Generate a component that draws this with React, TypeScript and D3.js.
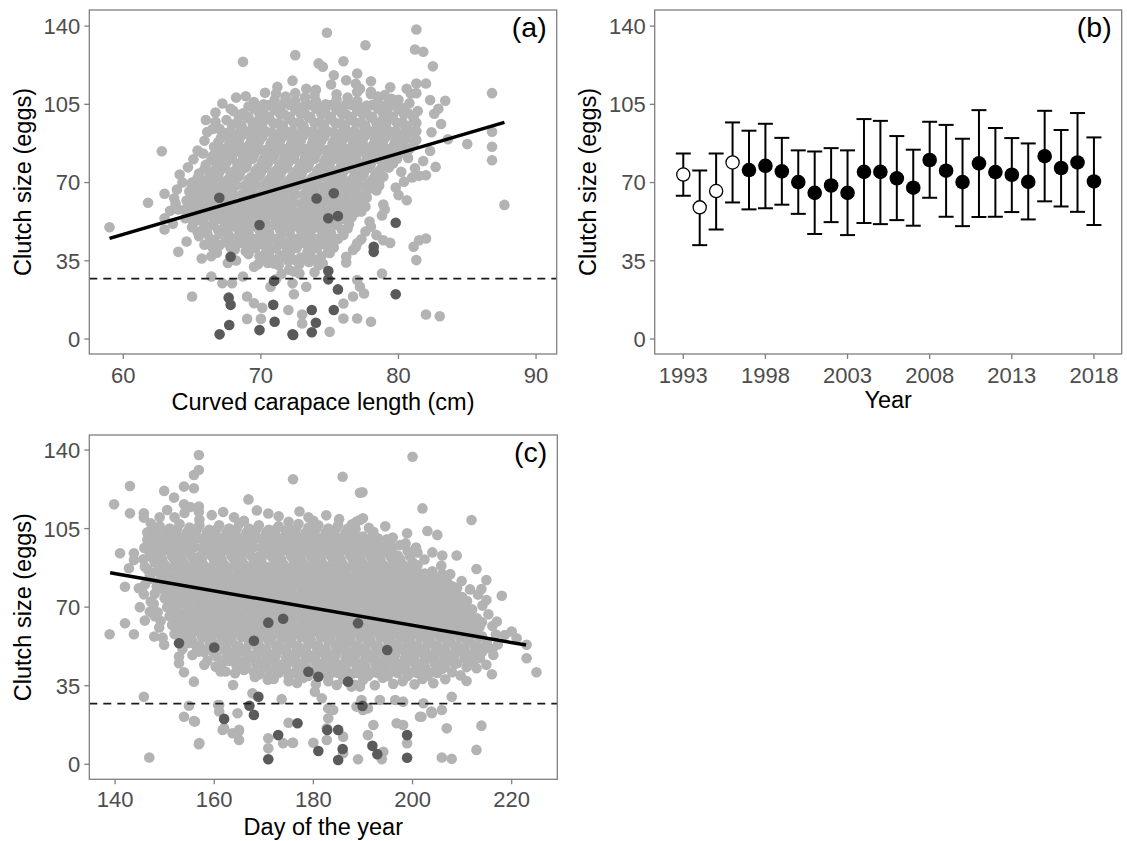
import React from "react";
import * as d3 from "d3";

type Pt = [number, number];

const FONT = "'Liberation Sans', Arial, Helvetica, sans-serif";
const LIGHT = "#b3b3b3";
const DARK = "#5a5a5a";
const AXIS = "#7f7f7f";
const TICKTEXT = "#4d4d4d";

const clutchTicks = [0, 35, 70, 105, 140];
const cclTicks = [60, 70, 80, 90];
const yearTicks = [1993, 1998, 2003, 2008, 2013, 2018];
const dayTicks = [140, 160, 180, 200, 220];
const threshold = 27;

// Panel (a): curved carapace length (cm) vs clutch size (eggs)
const lightA: Pt[] = [
  [72.5,110],[74,111.5],[75.5,109.5],[77,110.5],[78.5,108.5],[73.2,108],
  [69.5,106],[70.2,105],[71,107],[71.7,105.5],[72.5,106.5],[73.2,104.5],[74,106.5],[74.7,105],[75.5,107],[76.2,105],[77,106.5],[77.7,104.5],[78.5,106],[79.2,105],[80,107],[80.8,105.5],
  [68,102],[68.7,101],[69.5,103],[70.2,101.5],[71,102.5],[71.7,100.5],[72.5,102.5],[73.2,101],[74,103],[74.7,101],[75.5,102.5],[76.2,100.5],[77,102],[77.7,101],[78.5,103],[79.2,101.5],[80,102.5],[80.7,101],[81.4,102],
  [67.5,98],[68.3,97],[69,99],[69.8,97.5],[70.5,98.5],[71.3,96.5],[72,98.5],[72.8,97],[73.5,99],[74.3,97],[75,98.5],[75.8,96.5],[76.5,98],[77.3,97],[78,99],[78.8,97.5],[79.5,98.5],[80.3,97],[81.1,98.5],
  [67,94],[67.8,93],[68.5,95],[69.3,93.5],[70,94.5],[70.8,92.5],[71.5,94.5],[72.3,93],[73,95],[73.8,93],[74.5,94.5],[75.3,92.5],[76,94],[76.8,93],[77.5,95],[78.3,93.5],[79,94.5],[79.8,93],[80.5,94.5],[81.3,93],
  [67.1,90],[67.8,89],[68.6,91],[69.3,89.5],[70.1,90.5],[70.8,88.5],[71.6,90.5],[72.3,89],[73.1,91],[73.8,89],[74.6,90.5],[75.3,88.5],[76.1,90],[76.8,89],[77.6,91],[78.3,89.5],[79.1,90.5],[79.8,89],[80.6,90.5],[81.3,89],
  [66.6,86],[67.3,85],[68.1,87],[68.8,85.5],[69.6,86.5],[70.3,84.5],[71.1,86.5],[71.8,85],[72.6,87],[73.3,85],[74.1,86.5],[74.8,84.5],[75.6,86],[76.3,85],[77.1,87],[77.8,85.5],[78.6,86.5],[79.3,85],[80.1,86.5],[80.8,85],
  [66.5,82],[67.2,81],[68,83],[68.7,81.5],[69.5,82.5],[70.2,80.5],[71,82.5],[71.7,81],[72.5,83],[73.2,81],[74,82.5],[74.7,80.5],[75.5,82],[76.2,81],[77,83],[77.7,81.5],[78.5,82.5],[79.2,81],[80,82.5],[80.7,81],
  [66,78],[66.8,77],[67.5,79],[68.3,77.5],[69,78.5],[69.8,76.5],[70.5,78.5],[71.3,77],[72,79],[72.8,77],[73.5,78.5],[74.3,76.5],[75,78],[75.8,77],[76.5,79],[77.3,77.5],[78,78.5],[78.8,77],[79.6,78.5],
  [65.5,74],[66.3,73],[67,75],[67.8,73.5],[68.5,74.5],[69.3,72.5],[70,74.5],[70.8,73],[71.5,75],[72.3,73],[73,74.5],[73.8,72.5],[74.5,74],[75.3,73],[76,75],[76.8,73.5],[77.5,74.5],[78.3,73],
  [65,70],[65.8,69],[66.5,71],[67.3,69.5],[68,70.5],[68.8,68.5],[69.5,70.5],[70.3,69],[71,71],[71.8,69],[72.5,70.5],[73.3,68.5],[74,70],[74.8,69],[75.5,71],[76.3,69.5],[77,70.5],[77.8,69],[78.6,70.5],
  [64.8,66],[65.6,65],[66.3,67],[67.1,65.5],[67.8,66.5],[68.6,64.5],[69.3,66.5],[70.1,65],[70.8,67],[71.6,65],[72.3,66.5],[73.1,64.5],[73.8,66],[74.6,65],[75.3,67],[76.1,65.5],[76.8,66.5],[77.6,65],[78.4,66.5],
  [64.6,62],[65.4,61],[66.1,63],[66.9,61.5],[67.6,62.5],[68.4,60.5],[69.1,62.5],[69.9,61],[70.6,63],[71.4,61],[72.1,62.5],[72.9,60.5],[73.6,62],[74.4,61],[75.1,63],[75.9,61.5],[76.6,62.5],[77.4,61],
  [64.5,58],[65.3,57],[66,59],[66.8,57.5],[67.5,58.5],[68.3,56.5],[69,58.5],[69.8,57],[70.5,59],[71.3,57],[72,58.5],[72.8,56.5],[73.5,58],[74.3,57],[75,59],[75.8,57.5],[76.5,58.5],[77.3,57],
  [64.5,54],[65.3,53],[66,55],[66.8,53.5],[67.5,54.5],[68.3,52.5],[69,54.5],[69.8,53],[70.5,55],[71.3,53],[72,54.5],[72.8,52.5],[73.5,54],[74.3,53],[75,55],[75.8,53.5],[76.6,54.5],
  [65,50],[65.8,49],[66.5,51],[67.3,49.5],[68,50.5],[68.8,48.5],[69.5,50.5],[70.3,49],[71,51],[71.8,49],[72.5,50.5],[73.3,48.5],[74,50],[74.8,49],[75.5,51],[76.3,49.5],
  [65.5,46],[66.3,45],[67,47],[67.8,45.5],[68.5,46.5],[69.3,44.5],[70,46.5],[70.8,45],[71.5,47],[72.3,45],[73,46.5],[73.8,44.5],[74.5,46],[75.3,45],[76,46.5],
  [67,42],[67.8,41],[68.5,43],[69.3,41.5],[70,42.5],[70.8,40.5],[71.5,42.5],[72.3,41],[73,43],[73.8,41],[74.5,42.5],[75.3,41],
  [69.1,38],[69.9,37],[70.6,39],[71.4,37.5],[72.1,38.5],[72.9,36.5],[73.6,38.5],[74.4,37],[75,38.5],
  [70.5,34],[71.3,33],[72,35],[72.8,33.5],[73.5,34.5],[74.2,33],
  [59,50],[61.8,61],[62.8,84],[63,65],[63,54],[63,49],[63.7,63],[64,58],[64.3,70],[65,68],[64,39],[65,19],[65.8,83],[66,98],[66.5,94],[65.7,36],[66.5,41],[66.4,37],[67,81.5],[67.8,103],[68.2,108],[68.7,124],
  [67.6,34],[66.4,28],[67.2,25],[67.9,25],[68.7,28],[69,19],[69,9],[69.5,16],[70.1,14],[70,9],[72,13],[72.4,20],[73,11],[73,7],
  [72.5,127],[74.8,137],[77.6,131.4],[81.3,138.5],[81.2,129.5],[81.8,128.5],[82.5,122],[76,124.3],[78,115.3],[80.6,112],[81.3,114.3],[82,114.3],[81.3,110],[83.4,106.6],[82.9,103],
  [86.8,110],[86.8,92.7],[86.8,86],[86.8,80],[85,87.2],[87.7,60],[82.7,77],[82,73.3],[81.5,73],[81,72.3],[80.2,74.8],[80,64.4],[79,58],[78,50.2],[78.4,46.5],[78.9,44.2],[79.4,43],
  [81.1,41.3],[81.5,44.2],[82,45],[81.3,35.3],[77,42.8],[76.7,39.8],[76.2,36.8],[78.8,29.3],[77.2,23.4],[77,26.4],[77.5,20.4],[76.7,19],[76,9.2],[77,9.2],[78,7.7],[82,11],[83,10.2],[76,15.9],[75,3.2],
  [70.95,33.8],[70.7,23.4],[71.1,26.7],[69.5,32.3],[70,36.8],[70.6,37.5],[72.05,31],[72.8,29.3],[72.3,24.9],[73.3,23.4],[74.5,33.8],
  [71.1,109.8],[71.8,107.6],[73.3,112],[74.2,123.3],[69.6,103.1],[74.5,121.8],[75.3,118],[76.2,115.8],[77,118.8],[77.2,112],[78,110.6],[79,109.1],[79.9,103.9],
];

// Panel (a): the densely packed middle of the cloud
const coreA: Pt[] = [
  [71.8,108.5],[73.9,109],[76.3,108],[78,109.5],[79.5,107.5],
  [69.1,104],[69.9,103.3],[70.6,104.7],[71.4,103.3],[72.1,104.7],[72.9,103.3],[73.6,104.7],[74.4,103.3],[75.1,104.7],[75.9,103.3],[76.6,104.7],[77.4,103.3],[78.1,104.7],[78.9,103.3],[79.6,104.7],[80.4,103.3],
  [68.4,100],[69.1,99.3],[69.9,100.7],[70.6,99.3],[71.4,100.7],[72.1,99.3],[72.9,100.7],[73.6,99.3],[74.4,100.7],[75.1,99.3],[75.9,100.7],[76.6,99.3],[77.4,100.7],[78.1,99.3],[78.9,100.7],[79.6,99.3],[80.4,100.7],[81.1,99.3],
  [67.9,96],[68.6,95.3],[69.4,96.7],[70.1,95.3],[70.9,96.7],[71.6,95.3],[72.4,96.7],[73.1,95.3],[73.9,96.7],[74.6,95.3],[75.4,96.7],[76.1,95.3],[76.9,96.7],[77.6,95.3],[78.4,96.7],[79.1,95.3],[79.9,96.7],[80.6,95.3],[81.3,96.7],
  [67.4,92],[68.2,91.3],[68.9,92.7],[69.7,91.3],[70.4,92.7],[71.2,91.3],[71.9,92.7],[72.7,91.3],[73.4,92.7],[74.2,91.3],[74.9,92.7],[75.7,91.3],[76.4,92.7],[77.2,91.3],[77.9,92.7],[78.7,91.3],[79.4,92.7],[80.2,91.3],[80.9,92.7],
  [66.9,88],[67.7,87.3],[68.4,88.7],[69.2,87.3],[69.9,88.7],[70.7,87.3],[71.4,88.7],[72.2,87.3],[72.9,88.7],[73.7,87.3],[74.4,88.7],[75.2,87.3],[75.9,88.7],[76.7,87.3],[77.4,88.7],[78.2,87.3],[78.9,88.7],[79.7,87.3],[80.4,88.7],[81.1,87.3],
  [66.9,84],[67.6,83.3],[68.4,84.7],[69.1,83.3],[69.9,84.7],[70.6,83.3],[71.4,84.7],[72.1,83.3],[72.9,84.7],[73.6,83.3],[74.4,84.7],[75.1,83.3],[75.9,84.7],[76.6,83.3],[77.4,84.7],[78.1,83.3],[78.9,84.7],[79.6,83.3],[80.4,84.7],
  [66.4,80],[67.1,79.3],[67.9,80.7],[68.6,79.3],[69.4,80.7],[70.1,79.3],[70.9,80.7],[71.6,79.3],[72.4,80.7],[73.1,79.3],[73.9,80.7],[74.6,79.3],[75.4,80.7],[76.1,79.3],[76.9,80.7],[77.6,79.3],[78.4,80.7],[79.1,79.3],[79.9,80.7],
  [65.9,76],[66.6,75.3],[67.4,76.7],[68.1,75.3],[68.9,76.7],[69.6,75.3],[70.4,76.7],[71.1,75.3],[71.9,76.7],[72.6,75.3],[73.4,76.7],[74.1,75.3],[74.9,76.7],[75.6,75.3],[76.4,76.7],[77.1,75.3],[77.9,76.7],[78.6,75.3],[79.3,76.7],
  [65.4,72],[66.1,71.3],[66.9,72.7],[67.6,71.3],[68.4,72.7],[69.1,71.3],[69.9,72.7],[70.6,71.3],[71.4,72.7],[72.1,71.3],[72.9,72.7],[73.6,71.3],[74.4,72.7],[75.1,71.3],[75.9,72.7],[76.6,71.3],[77.4,72.7],[78.1,71.3],[78.9,72.7],
  [65.2,68],[65.9,67.3],[66.7,68.7],[67.4,67.3],[68.2,68.7],[68.9,67.3],[69.7,68.7],[70.4,67.3],[71.2,68.7],[71.9,67.3],[72.7,68.7],[73.4,67.3],[74.2,68.7],[74.9,67.3],[75.7,68.7],[76.4,67.3],[77.2,68.7],[77.9,67.3],[78.6,68.7],
  [65,64],[65.7,63.3],[66.5,64.7],[67.2,63.3],[68,64.7],[68.7,63.3],[69.5,64.7],[70.2,63.3],[71,64.7],[71.7,63.3],[72.5,64.7],[73.2,63.3],[74,64.7],[74.7,63.3],[75.5,64.7],[76.2,63.3],[77,64.7],[77.7,63.3],
  [64.9,60],[65.6,59.3],[66.4,60.7],[67.1,59.3],[67.9,60.7],[68.6,59.3],[69.4,60.7],[70.1,59.3],[70.9,60.7],[71.6,59.3],[72.4,60.7],[73.1,59.3],[73.9,60.7],[74.6,59.3],[75.4,60.7],[76.1,59.3],[76.9,60.7],[77.6,59.3],
  [64.9,56],[65.6,55.3],[66.4,56.7],[67.1,55.3],[67.9,56.7],[68.6,55.3],[69.4,56.7],[70.1,55.3],[70.9,56.7],[71.6,55.3],[72.4,56.7],[73.1,55.3],[73.9,56.7],[74.6,55.3],[75.4,56.7],[76.1,55.3],[76.9,56.7],
  [65.1,52],[65.9,51.3],[66.6,52.7],[67.4,51.3],[68.1,52.7],[68.9,51.3],[69.6,52.7],[70.4,51.3],[71.1,52.7],[71.9,51.3],[72.6,52.7],[73.4,51.3],[74.1,52.7],[74.9,51.3],[75.6,52.7],[76.4,51.3],
  [65.4,48],[66.1,47.3],[66.9,48.7],[67.6,47.3],[68.4,48.7],[69.1,47.3],[69.9,48.7],[70.6,47.3],[71.4,48.7],[72.1,47.3],[72.9,48.7],[73.6,47.3],[74.4,48.7],[75.1,47.3],[75.9,48.7],
  [66.6,44],[67.4,43.3],[68.1,44.7],[68.9,43.3],[69.6,44.7],[70.4,43.3],[71.1,44.7],[71.9,43.3],[72.6,44.7],[73.4,43.3],[74.1,44.7],[74.9,43.3],[75.6,44.7],
  [68.1,40],[68.9,39.3],[69.6,40.7],[70.4,39.3],[71.1,40.7],[71.9,39.3],[72.6,40.7],[73.4,39.3],[74.1,40.7],[74.9,39.3],
  [70.2,36],[71,35.3],[71.7,36.7],[72.5,35.3],[73.2,36.7],[74,35.3],
];

// Panel (a): scattered points around the edge of the dense cloud
const fringeA: Pt[] = [
  [68.9,108.6],[70.3,110.2],[71.2,112.8],[72.3,115.6],[75.1,113.9],[76.9,114.2],[79.4,112.6],[80.9,109.8],[82.3,106.9],[67.2,105.4],[66.7,101.3],
  [82.6,100.8],[83.1,96.2],[82.4,92.5],[83.6,89.4],[82.3,84.1],[81.8,79.6],[81.2,76.4],[80.4,70.4],[79.8,67.8],[80.6,62.1],[78.9,60.2],[78.8,55.3],[77.9,52.6],[77.6,48.1],[77.3,44.6],[76.9,41.2],[76.2,34.2],
  [73.9,29.9],[72.4,30.2],[71.5,29.1],[69.8,33.5],[68.2,35.1],[66.8,38.6],[65.9,42.2],[64.6,43.6],
  [63.6,51.6],[63.4,57.4],[63.8,60.6],[63.9,66.9],[64.1,73.6],[64.7,76.8],[65.1,80.4],[65.4,84.3],[65.9,88.7],[66.1,92.6],[66.7,97.2],
];

const darkA: Pt[] = [
  [66.98,63.2],[69.9,51],[67.8,36.8],[67.66,18.5],[67.8,15.3],[70.9,15.3],[71,7.7],[67.7,6.3],[67,2.1],[69.9,4],[72.3,2.1],[70.95,26],
  [74.05,62.9],[75.3,65.2],[74.9,54],[75.6,55],[79.8,52],[78.2,41.3],[78.2,39],[74.9,30.4],[74.9,26.7],[75.6,22.2],[79.8,20],[73.7,13],[75.3,13],[74,7.3],[73.7,3],[72.35,1.8],
];

const fitA: Pt[] = [[59, 45], [87.7, 96.9]];

// Panel (b): yearly mean clutch size with error bars
const years = [1993,1994,1995,1996,1997,1998,1999,2000,2001,2002,2003,2004,2005,2006,2007,2008,2009,2010,2011,2012,2013,2014,2015,2016,2017,2018];
const yearMean = [73.6,58.9,66.2,79.0,75.6,77.5,75.0,70.2,65.4,68.7,65.4,74.8,74.8,71.9,67.7,80.1,75.3,70.2,78.6,74.7,73.5,70.3,81.8,76.5,79.0,70.5];
const yearLower = [64.1,42.0,49.0,61.1,58.0,58.5,60.1,56.0,47.0,52.3,46.5,51.9,51.4,53.2,50.7,63.2,54.7,50.5,54.6,54.7,56.8,53.5,61.6,59.3,56.9,51.0];
const yearUpper = [83.0,75.4,83.0,96.9,93.2,96.3,90.0,84.4,83.9,85.4,84.4,98.4,97.6,90.8,84.7,97.2,95.8,89.6,102.4,94.4,89.9,87.5,102.1,93.5,101.1,90.2];
const openYears = [1993, 1994, 1995, 1996];

// Panel (c): day of the year vs clutch size
const lightC: Pt[] = [
  [152,110],[154,112],[157,109],[159.5,111],[164,110],[166,108.5],[173,110.5],[175,108],[179,110],[180,108.5],
  [149,106],[151,105],[153,107],[155,105.5],[157,106.5],[159,104.5],[161,106.5],[163,105],[165,107],[167,105],[169,106.5],[171,104.5],[173,106],[175,105],[177,107],[179,105.5],[181,106.5],[183,105],[185,106.5],[187,105],
  [148,102],[150,101],[152,103],[154,101.5],[156,102.5],[158,100.5],[160,102.5],[162,101],[164,103],[166,101],[168,102.5],[170,100.5],[172,102],[174,101],[176,103],[178,101.5],[180,102.5],[182,101],[184,102.5],[186,101],[188,103],[190,101.5],[192,102],
  [147.5,98],[149.5,97],[151.5,99],[153.5,97.5],[155.5,98.5],[157.5,96.5],[159.5,98.5],[161.5,97],[163.5,99],[165.5,97],[167.5,98.5],[169.5,96.5],[171.5,98],[173.5,97],[175.5,99],[177.5,97.5],[179.5,98.5],[181.5,97],[183.5,98.5],[185.5,97],[187.5,99],[189.5,97.5],[191.5,98.5],[193.5,97],[195.5,98],
  [147,94],[149,93],[151,95],[153,93.5],[155,94.5],[157,92.5],[159,94.5],[161,93],[163,95],[165,93],[167,94.5],[169,92.5],[171,94],[173,93],[175,95],[177,93.5],[179,94.5],[181,93],[183,94.5],[185,93],[187,95],[189,93.5],[191,94.5],[193,93],[195,94.5],[197,93],
  [148,90],[150,89],[152,91],[154,89.5],[156,90.5],[158,88.5],[160,90.5],[162,89],[164,91],[166,89],[168,90.5],[170,88.5],[172,90],[174,89],[176,91],[178,89.5],[180,90.5],[182,89],[184,90.5],[186,89],[188,91],[190,89.5],[192,90.5],[194,89],[196,90.5],[198,89],[200,90],
  [148.5,86],[150.5,85],[152.5,87],[154.5,85.5],[156.5,86.5],[158.5,84.5],[160.5,86.5],[162.5,85],[164.5,87],[166.5,85],[168.5,86.5],[170.5,84.5],[172.5,86],[174.5,85],[176.5,87],[178.5,85.5],[180.5,86.5],[182.5,85],[184.5,86.5],[186.5,85],[188.5,87],[190.5,85.5],[192.5,86.5],[194.5,85],[196.5,86.5],[198.5,85],[200.5,86.5],[202.5,85],[204,86],
  [149,82],[151,81],[153,83],[155,81.5],[157,82.5],[159,80.5],[161,82.5],[163,81],[165,83],[167,81],[169,82.5],[171,80.5],[173,82],[175,81],[177,83],[179,81.5],[181,82.5],[183,81],[185,82.5],[187,81],[189,83],[191,81.5],[193,82.5],[195,81],[197,82.5],[199,81],[201,82.5],[203,81],[205,82.5],[207,81],
  [149.5,78],[151.5,77],[153.5,79],[155.5,77.5],[157.5,78.5],[159.5,76.5],[161.5,78.5],[163.5,77],[165.5,79],[167.5,77],[169.5,78.5],[171.5,76.5],[173.5,78],[175.5,77],[177.5,79],[179.5,77.5],[181.5,78.5],[183.5,77],[185.5,78.5],[187.5,77],[189.5,79],[191.5,77.5],[193.5,78.5],[195.5,77],[197.5,78.5],[199.5,77],[201.5,78.5],[203.5,77],[205.5,78.5],[207.5,77],[209,78.5],
  [150,74],[152,73],[154,75],[156,73.5],[158,74.5],[160,72.5],[162,74.5],[164,73],[166,75],[168,73],[170,74.5],[172,72.5],[174,74],[176,73],[178,75],[180,73.5],[182,74.5],[184,73],[186,74.5],[188,73],[190,75],[192,73.5],[194,74.5],[196,73],[198,74.5],[200,73],[202,74.5],[204,73],[206,74.5],[208,73],[210,74.5],
  [150.5,70],[152.5,69],[154.5,71],[156.5,69.5],[158.5,70.5],[160.5,68.5],[162.5,70.5],[164.5,69],[166.5,71],[168.5,69],[170.5,70.5],[172.5,68.5],[174.5,70],[176.5,69],[178.5,71],[180.5,69.5],[182.5,70.5],[184.5,69],[186.5,70.5],[188.5,69],[190.5,71],[192.5,69.5],[194.5,70.5],[196.5,69],[198.5,70.5],[200.5,69],[202.5,70.5],[204.5,69],[206.5,70.5],[208.5,69],[210.5,70.5],[212,69],
  [151,66],[153,65],[155,67],[157,65.5],[159,66.5],[161,64.5],[163,66.5],[165,65],[167,67],[169,65],[171,66.5],[173,64.5],[175,66],[177,65],[179,67],[181,65.5],[183,66.5],[185,65],[187,66.5],[189,65],[191,67],[193,65.5],[195,66.5],[197,65],[199,66.5],[201,65],[203,66.5],[205,65],[207,66.5],[209,65],[211,66.5],[213,65],
  [151.5,62],[153.5,61],[155.5,63],[157.5,61.5],[159.5,62.5],[161.5,60.5],[163.5,62.5],[165.5,61],[167.5,63],[169.5,61],[171.5,62.5],[173.5,60.5],[175.5,62],[177.5,61],[179.5,63],[181.5,61.5],[183.5,62.5],[185.5,61],[187.5,62.5],[189.5,61],[191.5,63],[193.5,61.5],[195.5,62.5],[197.5,61],[199.5,62.5],[201.5,61],[203.5,62.5],[205.5,61],[207.5,62.5],[209.5,61],[211.5,62.5],[213.5,61],
  [152,58],[154,57],[156,59],[158,57.5],[160,58.5],[162,56.5],[164,58.5],[166,57],[168,59],[170,57],[172,58.5],[174,56.5],[176,58],[178,57],[180,59],[182,57.5],[184,58.5],[186,57],[188,58.5],[190,57],[192,59],[194,57.5],[196,58.5],[198,57],[200,58.5],[202,57],[204,58.5],[206,57],[208,58.5],[210,57],[212,58.5],[214,57],
  [155,54],[157,53],[159,55],[161,53.5],[163,54.5],[165,52.5],[167,54.5],[169,53],[171,55],[173,53],[175,54.5],[177,52.5],[179,54],[181,53],[183,55],[185,53.5],[187,54.5],[189,53],[191,54.5],[193,53],[195,55],[197,53.5],[199,54.5],[201,53],[203,54.5],[205,53],[207,54.5],[209,53],[211,54.5],[213,53],[215,54],
  [158,50],[160,49],[162,51],[164,49.5],[166,50.5],[168,48.5],[170,50.5],[172,49],[174,51],[176,49],[178,50.5],[180,48.5],[182,50],[184,49],[186,51],[188,49.5],[190,50.5],[192,49],[194,50.5],[196,49],[198,51],[200,49.5],[202,50.5],[204,49],[206,50.5],[208,49],[210,50.5],[212,49],[214,50],
  [163,46],[165,45],[167,47],[169,45.5],[171,46.5],[173,44.5],[175,46.5],[177,45],[179,47],[181,45],[183,46.5],[185,44.5],[187,46],[189,45],[191,47],[193,45.5],[195,46.5],[197,45],[199,46.5],[201,45],[203,47],[205,45.5],[207,46.5],[209,45],[211,46.5],
  [166,42],[168,41],[170,43],[172,41.5],[174,42.5],[176,40.5],[178,42.5],[180,41],[182,43],[184,41],[186,42.5],[188,40.5],[190,42],[192,41],[194,43],[196,41.5],[198,42.5],[200,41],[202,42.5],[204,41],[206,42.5],[208,41],
  [172,38],[175,37],[178,38.5],[183,37],[186,38],[190,37.5],[194,38.5],[198,37],[202,38],
  [138.9,57.9],[139.8,115.8],[143,124],[143,111.8],[145.8,111.8],[145.8,109.9],[141,94],[143.8,94],[143.8,91],[142.8,87.3],[142,79.1],[144.8,78.4],[145.8,75.7],[147.2,72.5],[142,62.8],[143.8,57.9],[146.9,97.7],[147.9,56.9],[148.9,60.9],[149.9,53.2],[145.8,30.1],[146.9,3],
  [149.9,121.8],[151.9,118.8],[153.9,123.7],[155.9,123],[153.9,115.8],[156.9,137.8],[156.9,131.1],[155.9,128.9],[156.9,114.8],[156.9,112.5],[166.9,118],[175.9,127],
  [152.9,48],[152.9,45],[153.9,41],[155.9,36.8],[154.9,26.1],[153.9,21.2],[155.9,19.3],[156.9,8.9],[161,26.4],[161,23.5],[163.8,35.3],[162,16],[163.7,13.8],[165,10.8],[165,15.3],[156.1,19],[157,9.4],[160.8,26.4],[164.7,22.7],[164.9,14.5],[161.7,15.3],[167.7,31.6],[170.9,11.6],[170.9,7.1],[173.9,9.4],[175.8,9.6],
  [146,88],[147,84],[146,80],[148,76],[147,68],[146,64],[145,70],[148,66],[146.5,100],[148,105],[149,110],
  [156.9,50.2],[158,44.3],[160.3,43.5],[161.3,41.3],[162.3,41.3],[165,45.7],[166.4,42.8],
  [185.9,128.1],[189.9,121.2],[202,114],[211.9,108.8],[198.9,102.9],[203,103.9],[205,102.2],[201,94.4],[204,94.4],[206,93],[208.9,93],[212.9,87],[214.9,82.1],[213.9,78.1],[214.9,73.2],[218,75.1],[218.6,57.6],[220,59.1],[223,47.2],[225,41],
  [210.9,37.1],[216,40.1],[212.9,42.8],[207.9,30.1],[213.9,17.2],[212.9,6.4],[206.9,16],[205.9,3],[207.9,2.4],[201.8,21.2],[203.8,23.5],[200,137],[189.4,121],[189.4,108.8],
  [173.6,29],[175,18.5],[175.9,9.6],[180,9.6],[182.7,10.8],[182.7,16],[183,24.9],[183,20.5],[184,24.2],[186,12.3],[186,4.9],[189,2.2],[188.7,25.7],[190,24.2],[191,24.9],[192.1,17.5],[191,13],[194.1,5.6],[193.8,2.2],[196.8,18.3],[198.1,17.5],[198.9,9.4],[201.5,21.2],
  [180.3,32.3],[181.7,29.4],[184.7,35.3],[187.7,34.6],[189.4,34.6],[189.7,28.6],[193.4,28.6],[196.5,28.6],[198.1,27.9],[202.2,27.2],[203.9,22.7],[205.9,24.2],[184,43.5],[181.3,40.5],[177.3,39],
  [217,63.6],[221,56.1],[223,53.2],[214.9,51.7],[216.3,48.7],[214.9,44.3],[212.2,45.7],
  [188.7,108.1],[190,109.6],[192.1,103.6],[194.5,106],[196,101],[197.5,97.7],[199,95],
];

// Panel (c): the densely packed middle of the cloud
const coreC: Pt[] = [
  [148.5,104],[150.5,103.3],[152.5,104.7],[154.5,103.3],[156.5,104.7],[158.5,103.3],[160.5,104.7],[162.5,103.3],[164.5,104.7],[166.5,103.3],[168.5,104.7],[170.5,103.3],[172.5,104.7],[174.5,103.3],[176.5,104.7],[178.5,103.3],[180.5,104.7],[182.5,103.3],[184.5,104.7],[186.5,103.3],[188.5,104.7],
  [149,100],[151,99.3],[153,100.7],[155,99.3],[157,100.7],[159,99.3],[161,100.7],[163,99.3],[165,100.7],[167,99.3],[169,100.7],[171,99.3],[173,100.7],[175,99.3],[177,100.7],[179,99.3],[181,100.7],[183,99.3],[185,100.7],[187,99.3],[189,100.7],[191,99.3],[193,100.7],
  [148,96],[150,95.3],[152,96.7],[154,95.3],[156,96.7],[158,95.3],[160,96.7],[162,95.3],[164,96.7],[166,95.3],[168,96.7],[170,95.3],[172,96.7],[174,95.3],[176,96.7],[178,95.3],[180,96.7],[182,95.3],[184,96.7],[186,95.3],[188,96.7],[190,95.3],[192,96.7],[194,95.3],[196,96.7],
  [147.5,92],[149.5,91.3],[151.5,92.7],[153.5,91.3],[155.5,92.7],[157.5,91.3],[159.5,92.7],[161.5,91.3],[163.5,92.7],[165.5,91.3],[167.5,92.7],[169.5,91.3],[171.5,92.7],[173.5,91.3],[175.5,92.7],[177.5,91.3],[179.5,92.7],[181.5,91.3],[183.5,92.7],[185.5,91.3],[187.5,92.7],[189.5,91.3],[191.5,92.7],[193.5,91.3],[195.5,92.7],[197.5,91.3],[199.5,92.7],
  [149,88],[151,87.3],[153,88.7],[155,87.3],[157,88.7],[159,87.3],[161,88.7],[163,87.3],[165,88.7],[167,87.3],[169,88.7],[171,87.3],[173,88.7],[175,87.3],[177,88.7],[179,87.3],[181,88.7],[183,87.3],[185,88.7],[187,87.3],[189,88.7],[191,87.3],[193,88.7],[195,87.3],[197,88.7],[199,87.3],[201,88.7],
  [150,84],[152,83.3],[154,84.7],[156,83.3],[158,84.7],[160,83.3],[162,84.7],[164,83.3],[166,84.7],[168,83.3],[170,84.7],[172,83.3],[174,84.7],[176,83.3],[178,84.7],[180,83.3],[182,84.7],[184,83.3],[186,84.7],[188,83.3],[190,84.7],[192,83.3],[194,84.7],[196,83.3],[198,84.7],[200,83.3],[202,84.7],[204,83.3],[206,84.7],
  [150,80],[152,79.3],[154,80.7],[156,79.3],[158,80.7],[160,79.3],[162,80.7],[164,79.3],[166,80.7],[168,79.3],[170,80.7],[172,79.3],[174,80.7],[176,79.3],[178,80.7],[180,79.3],[182,80.7],[184,79.3],[186,80.7],[188,79.3],[190,80.7],[192,79.3],[194,80.7],[196,79.3],[198,80.7],[200,79.3],[202,80.7],[204,79.3],[206,80.7],[208,79.3],
  [151,76],[153,75.3],[155,76.7],[157,75.3],[159,76.7],[161,75.3],[163,76.7],[165,75.3],[167,76.7],[169,75.3],[171,76.7],[173,75.3],[175,76.7],[177,75.3],[179,76.7],[181,75.3],[183,76.7],[185,75.3],[187,76.7],[189,75.3],[191,76.7],[193,75.3],[195,76.7],[197,75.3],[199,76.7],[201,75.3],[203,76.7],[205,75.3],[207,76.7],[209,75.3],
  [151,72],[153,71.3],[155,72.7],[157,71.3],[159,72.7],[161,71.3],[163,72.7],[165,71.3],[167,72.7],[169,71.3],[171,72.7],[173,71.3],[175,72.7],[177,71.3],[179,72.7],[181,71.3],[183,72.7],[185,71.3],[187,72.7],[189,71.3],[191,72.7],[193,71.3],[195,72.7],[197,71.3],[199,72.7],[201,71.3],[203,72.7],[205,71.3],[207,72.7],[209,71.3],[211,72.7],
  [152,68],[154,67.3],[156,68.7],[158,67.3],[160,68.7],[162,67.3],[164,68.7],[166,67.3],[168,68.7],[170,67.3],[172,68.7],[174,67.3],[176,68.7],[178,67.3],[180,68.7],[182,67.3],[184,68.7],[186,67.3],[188,68.7],[190,67.3],[192,68.7],[194,67.3],[196,68.7],[198,67.3],[200,68.7],[202,67.3],[204,68.7],[206,67.3],[208,68.7],[210,67.3],[212,68.7],
  [152,64],[154,63.3],[156,64.7],[158,63.3],[160,64.7],[162,63.3],[164,64.7],[166,63.3],[168,64.7],[170,63.3],[172,64.7],[174,63.3],[176,64.7],[178,63.3],[180,64.7],[182,63.3],[184,64.7],[186,63.3],[188,64.7],[190,63.3],[192,64.7],[194,63.3],[196,64.7],[198,63.3],[200,64.7],[202,63.3],[204,64.7],[206,63.3],[208,64.7],[210,63.3],[212,64.7],[214,63.3],
  [153,60],[155,59.3],[157,60.7],[159,59.3],[161,60.7],[163,59.3],[165,60.7],[167,59.3],[169,60.7],[171,59.3],[173,60.7],[175,59.3],[177,60.7],[179,59.3],[181,60.7],[183,59.3],[185,60.7],[187,59.3],[189,60.7],[191,59.3],[193,60.7],[195,59.3],[197,60.7],[199,59.3],[201,60.7],[203,59.3],[205,60.7],[207,59.3],[209,60.7],[211,59.3],[213,60.7],
  [153.5,56],[155.5,55.3],[157.5,56.7],[159.5,55.3],[161.5,56.7],[163.5,55.3],[165.5,56.7],[167.5,55.3],[169.5,56.7],[171.5,55.3],[173.5,56.7],[175.5,55.3],[177.5,56.7],[179.5,55.3],[181.5,56.7],[183.5,55.3],[185.5,56.7],[187.5,55.3],[189.5,56.7],[191.5,55.3],[193.5,56.7],[195.5,55.3],[197.5,56.7],[199.5,55.3],[201.5,56.7],[203.5,55.3],[205.5,56.7],[207.5,55.3],[209.5,56.7],[211.5,55.3],[213.5,56.7],
  [156.5,52],[158.5,51.3],[160.5,52.7],[162.5,51.3],[164.5,52.7],[166.5,51.3],[168.5,52.7],[170.5,51.3],[172.5,52.7],[174.5,51.3],[176.5,52.7],[178.5,51.3],[180.5,52.7],[182.5,51.3],[184.5,52.7],[186.5,51.3],[188.5,52.7],[190.5,51.3],[192.5,52.7],[194.5,51.3],[196.5,52.7],[198.5,51.3],[200.5,52.7],[202.5,51.3],[204.5,52.7],[206.5,51.3],[208.5,52.7],[210.5,51.3],[212.5,52.7],
  [160.5,48],[162.5,47.3],[164.5,48.7],[166.5,47.3],[168.5,48.7],[170.5,47.3],[172.5,48.7],[174.5,47.3],[176.5,48.7],[178.5,47.3],[180.5,48.7],[182.5,47.3],[184.5,48.7],[186.5,47.3],[188.5,48.7],[190.5,47.3],[192.5,48.7],[194.5,47.3],[196.5,48.7],[198.5,47.3],[200.5,48.7],[202.5,47.3],[204.5,48.7],[206.5,47.3],[208.5,48.7],[210.5,47.3],[212.5,48.7],
  [164.5,44],[166.5,43.3],[168.5,44.7],[170.5,43.3],[172.5,44.7],[174.5,43.3],[176.5,44.7],[178.5,43.3],[180.5,44.7],[182.5,43.3],[184.5,44.7],[186.5,43.3],[188.5,44.7],[190.5,43.3],[192.5,44.7],[194.5,43.3],[196.5,44.7],[198.5,43.3],[200.5,44.7],[202.5,43.3],[204.5,44.7],[206.5,43.3],[208.5,44.7],
  [169,40],[171,39.3],[173,40.7],[175,39.3],[177,40.7],[179,39.3],[181,40.7],[183,39.3],[185,40.7],[187,39.3],[189,40.7],[191,39.3],[193,40.7],[195,39.3],[197,40.7],[199,39.3],[201,40.7],[203,39.3],[205,40.7],
];

// Panel (c): scattered points around the edge of the dense cloud
const fringeC: Pt[] = [
  [150.5,113.3],[155.2,114.6],[161.8,112.4],[168.6,113.1],[170.9,111.7],[177.2,112.6],[182.6,110.9],[185.2,109.2],[187.8,106.9],[191.2,105.3],
  [194.8,100.2],[198.6,98.4],[200.7,96.6],[202.4,91.2],[205.8,88.5],[207.6,84.7],[209.9,81.6],[211.6,77.9],[213.2,75.6],[214.1,70.7],[215.3,66.8],[216.1,61.6],[216.8,57.8],[217.2,53.4],[216.1,51.2],[213.6,47.2],[210.9,43.3],
  [209.7,39.6],[206.6,37.9],[204.2,36.1],[200.4,35.6],[196.1,35.8],[192.4,35.2],[188.3,35.4],[180.5,35.6],[176.7,36.2],[170.8,37.7],[168.2,38.9],[164.2,40.6],[161.4,44.5],[158.6,46.1],[155.6,48.7],[153.6,51.4],
  [149.6,56.4],[149.2,63.8],[148.6,67.7],[147.8,71.5],[148.4,79.2],[147.1,82.6],[146.6,86.8],[145.7,91.3],[145.9,96.4],[146.5,103.3],[147.2,107.4],
];

const darkC: Pt[] = [
  [152.9,53.9],[160,52],[168,55],[170.9,63.1],[173.9,64.8],[167.1,26.1],[168.9,30.1],[168,22],[162,20.2],[170.9,2.2],[172.9,13],[176.8,18.3],
  [179,41.2],[181,39],[187,36.8],[189,62.8],[194.9,50.9],[189.9,26],[182.8,15.3],[185,15.3],[181,5.9],[185.9,6.8],[185,1.9],[191.9,8.2],[192.9,4.5],[198.9,13],[198.9,2.9],
];

const fitC: Pt[] = [[139, 85.3], [222.9, 53.1]];

type Box = { l: number; t: number; r: number; b: number };

const boxA: Box = { l: 89.3, t: 10, r: 556.7, b: 354 };
const boxB: Box = { l: 654.7, t: 10, r: 1121.7, b: 354 };
const boxC: Box = { l: 89.3, t: 435, r: 557.3, b: 779.3 };

function Frame(props: {
  box: Box;
  x: d3.ScaleLinear<number, number>;
  y: d3.ScaleLinear<number, number>;
  xTicks: number[];
  yTicks: number[];
  xTitle: string;
  yTitle: string;
  label: string;
  tickGap: number;
  titleGap: number;
}) {
  const { box, x, y, xTicks, yTicks, xTitle, yTitle, label, tickGap, titleGap } = props;
  const cx = (box.l + box.r) / 2;
  const cy = (box.t + box.b) / 2;
  return (
    <g fontFamily={FONT}>
      <rect x={box.l} y={box.t} width={box.r - box.l} height={box.b - box.t} fill="none" stroke={AXIS} strokeWidth={1.3} />
      {yTicks.map((v) => (
        <g key={"y" + v}>
          <line x1={box.l - 5} x2={box.l} y1={y(v)} y2={y(v)} stroke={AXIS} strokeWidth={1.3} />
          <text x={box.l - 9} y={y(v)} dy="0.36em" textAnchor="end" fontSize={22} fill={TICKTEXT}>{v}</text>
        </g>
      ))}
      {xTicks.map((v) => (
        <g key={"x" + v}>
          <line x1={x(v)} x2={x(v)} y1={box.b} y2={box.b + 5} stroke={AXIS} strokeWidth={1.3} />
          <text x={x(v)} y={box.b + tickGap} textAnchor="middle" fontSize={22} fill={TICKTEXT}>{v}</text>
        </g>
      ))}
      <text x={cx} y={box.b + titleGap} textAnchor="middle" fontSize={23.5} fill="#000">{xTitle}</text>
      <text transform={`translate(${box.l - 67},${cy}) rotate(-90)`} dy="0.36em" textAnchor="middle" fontSize={23.5} fill="#000">{yTitle}</text>
      <text x={box.r - 10} y={box.t + 27} textAnchor="end" fontSize={28.5} fill="#000">{label}</text>
    </g>
  );
}

function Scatter(props: {
  box: Box;
  x: d3.ScaleLinear<number, number>;
  y: d3.ScaleLinear<number, number>;
  light: Pt[];
  dark: Pt[];
  fit: Pt[];
}) {
  const { box, x, y, light, dark, fit } = props;
  const line = d3.line<Pt>().x((d) => x(d[0])).y((d) => y(d[1]));
  return (
    <g>
      {light.map((d, i) => (
        <circle key={"l" + i} cx={x(d[0])} cy={y(d[1])} r={5.3} fill={LIGHT} />
      ))}
      {dark.map((d, i) => (
        <circle key={"d" + i} cx={x(d[0])} cy={y(d[1])} r={5.3} fill={DARK} />
      ))}
      <line x1={box.l} x2={box.r} y1={y(threshold)} y2={y(threshold)} stroke="#1a1a1a" strokeWidth={1.8} strokeDasharray="8,6" />
      <path d={line(fit) || ""} fill="none" stroke="#000" strokeWidth={3.5} />
    </g>
  );
}

export default function App() {
  const xA = d3.scaleLinear().domain([57.53, 91.5]).range([boxA.l, boxA.r]);
  const yA = d3.scaleLinear().domain([-6.7, 147.2]).range([boxA.b, boxA.t]);
  const xB = d3.scaleLinear().domain([1991.26, 2019.69]).range([boxB.l, boxB.r]);
  const yB = d3.scaleLinear().domain([-6.7, 147.2]).range([boxB.b, boxB.t]);
  const xC = d3.scaleLinear().domain([134.8, 229.2]).range([boxC.l, boxC.r]);
  const yC = d3.scaleLinear().domain([-6.7, 146.7]).range([boxC.b, boxC.t]);

  const allLightA = [...coreA, ...fringeA, ...lightA];
  const allLightC = [...coreC, ...fringeC, ...lightC];

  return (
    <svg width={1127} height={841} viewBox="0 0 1127 841" style={{ position: "absolute", left: 0, top: 0, background: "#fff" }}>
      <rect x={0} y={0} width={1127} height={841} fill="#fff" />
      <Scatter box={boxA} x={xA} y={yA} light={allLightA} dark={darkA} fit={fitA} />
      <Frame box={boxA} x={xA} y={yA} xTicks={cclTicks} yTicks={clutchTicks} xTitle="Curved carapace length (cm)" yTitle="Clutch size (eggs)" label="(a)" tickGap={29} titleGap={56} />

      <g>
        {years.map((yr, i) => {
          const cx = xB(yr);
          const open = openYears.includes(yr);
          return (
            <g key={yr}>
              <line x1={cx} x2={cx} y1={yB(yearLower[i])} y2={yB(yearUpper[i])} stroke="#000" strokeWidth={2} />
              <line x1={cx - 7.5} x2={cx + 7.5} y1={yB(yearLower[i])} y2={yB(yearLower[i])} stroke="#000" strokeWidth={2} />
              <line x1={cx - 7.5} x2={cx + 7.5} y1={yB(yearUpper[i])} y2={yB(yearUpper[i])} stroke="#000" strokeWidth={2} />
              {open ? (
                <circle cx={cx} cy={yB(yearMean[i])} r={6.6} fill="#fff" stroke="#000" strokeWidth={1.3} />
              ) : (
                <circle cx={cx} cy={yB(yearMean[i])} r={7.3} fill="#000" />
              )}
            </g>
          );
        })}
      </g>
      <Frame box={boxB} x={xB} y={yB} xTicks={yearTicks} yTicks={clutchTicks} xTitle="Year" yTitle="Clutch size (eggs)" label="(b)" tickGap={29} titleGap={54} />

      <Scatter box={boxC} x={xC} y={yC} light={allLightC} dark={darkC} fit={fitC} />
      <Frame box={boxC} x={xC} y={yC} xTicks={dayTicks} yTicks={clutchTicks} xTitle="Day of the year" yTitle="Clutch size (eggs)" label="(c)" tickGap={27.5} titleGap={55.5} />
    </svg>
  );
}
